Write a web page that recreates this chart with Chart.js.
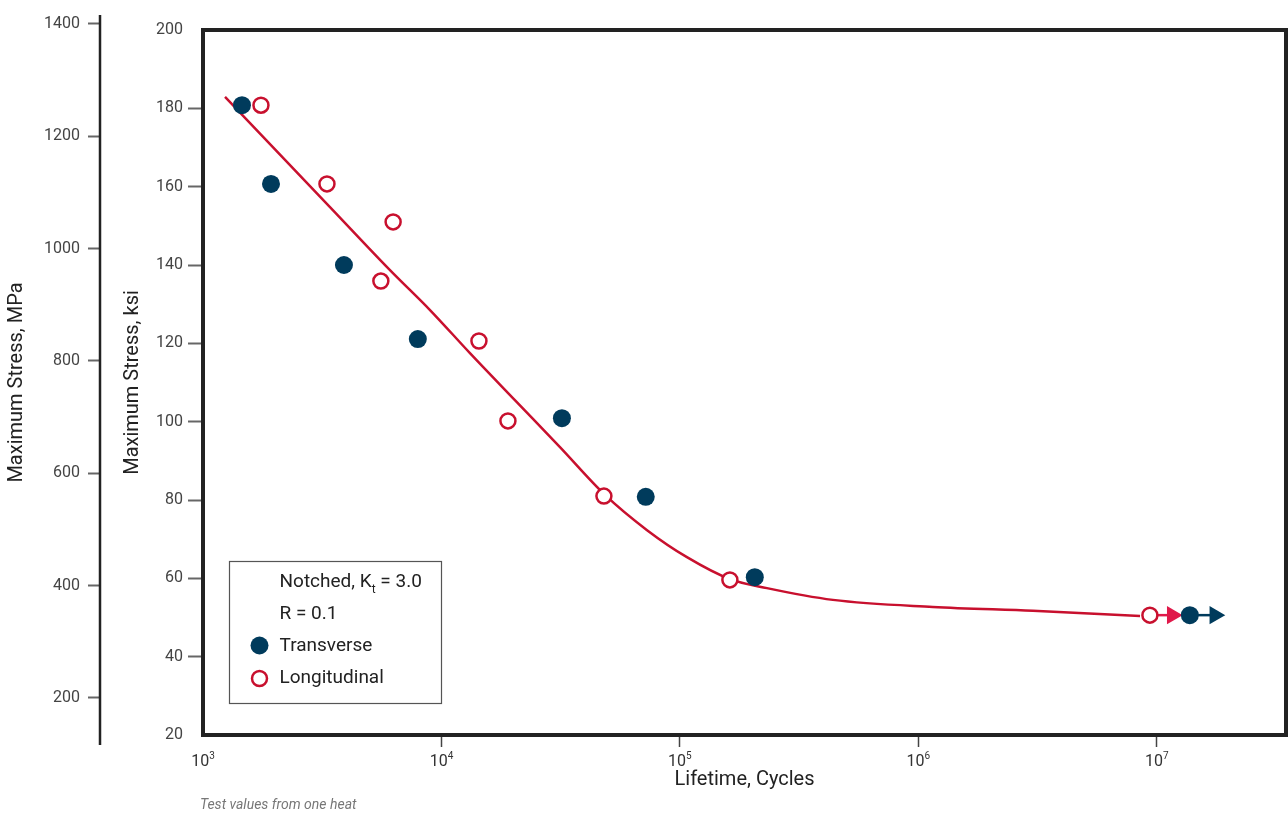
<!DOCTYPE html>
<html>
<head>
<meta charset="utf-8">
<title>Maximum Stress vs Lifetime</title>
<script src="https://cdn.jsdelivr.net/npm/chart.js@4.4.1/dist/chart.umd.min.js"></script>
<style>
  html, body { margin: 0; padding: 0; background: #fff; }
  #wrap { position: relative; width: 1288px; height: 816px; }
</style>
</head>
<body>
<div id="wrap"><canvas id="snChart" width="1288" height="816"></canvas></div>
<script>
// Test points: lifetime in cycles, stress in ksi
const transverseN   = [1457, 1928, 3900, 7960, 32000, 71900, 206000, 13750000];
const transverseKsi = [180.8, 160.7, 140.0, 121.1, 100.9, 80.8, 60.3, 50.6];

const longitudinalN   = [1750, 3310, 6270, 5570, 14360, 19000, 48000, 162000, 9350000];
const longitudinalKsi = [180.8, 160.7, 151.0, 135.9, 120.6, 100.2, 81.0, 59.6, 50.6];

// fitted S-N curve
const curveN   = [1237, 3408, 6083, 8953, 13166, 20320, 31400, 48500, 72800, 107000, 162000, 231700, 438000, 1150000, 3020000, 8500000];
const curveKsi = [182.9, 154.8, 138.7, 128.5, 117.5, 105.5, 93.5, 81.3, 72.3, 65.4, 59.8, 57.5, 54.5, 52.7, 51.7, 50.4];

// run-outs (arrows = test stopped, no failure)
const runoutLongN  = [9350000, 11600000];
const runoutTransN = [13750000, 17500000];
const runoutKsi    = [50.6, 50.6];

// axis ticks and ranges
const lifeTicks = [1e3, 1e4, 1e5, 1e6, 1e7];
const ksiTicks  = [20, 40, 60, 80, 100, 120, 140, 160, 180, 200];
const mpaTicks  = [200, 400, 600, 800, 1000, 1200, 1400];
const mpaRange  = [134, 1389];   // MPa at the bottom / top of the frame, as drawn

const NAVY = '#003b5c';
const RED = '#c8102e';
const ARROW_RED = '#e0194a';
const FONT = 'Roboto, "Liberation Sans", sans-serif';

const toPts = (xs, ys) => xs.map((x, i) => ({ x: x, y: ys[i] }));

Chart.defaults.font.family = FONT;

// frame round the plot, the long MPa axis line, 10^n labels, legend box and footnote
const decorPlugin = {
  id: 'decor',
  afterDraw(chart) {
    const ctx = chart.ctx;
    const a = chart.chartArea;
    const mpa = chart.scales.mpa;
    const xs = chart.scales.x;
    ctx.save();

    // plot frame
    ctx.strokeStyle = '#222';
    ctx.lineWidth = 4;
    ctx.strokeRect(a.left, a.top, a.right - a.left, a.bottom - a.top);

    // MPa axis line, runs a bit past the frame
    ctx.lineWidth = 2.5;
    ctx.beginPath();
    ctx.moveTo(mpa.right, a.top - 15);
    ctx.lineTo(mpa.right, a.bottom + 10);
    ctx.stroke();

    // lifetime tick labels with a real superscript
    ctx.fillStyle = '#333';
    ctx.textBaseline = 'middle';
    ctx.textAlign = 'left';
    lifeTicks.forEach(v => {
      const px = xs.getPixelForValue(v);
      const e = String(Math.round(Math.log10(v)));
      ctx.font = '16px ' + FONT;
      const w1 = ctx.measureText('10').width;
      ctx.font = '10px ' + FONT;
      const w2 = ctx.measureText(e).width;
      const x0 = px - (w1 + w2) / 2;
      ctx.font = '16px ' + FONT;
      ctx.fillText('10', x0, a.bottom + 27);
      ctx.font = '10px ' + FONT;
      ctx.fillText(e, x0 + w1, a.bottom + 21);
    });

    // legend box
    const bx = a.left + 26.5, by = a.bottom - 173.5, bw = 212, bh = 142;
    ctx.fillStyle = '#fff';
    ctx.fillRect(bx, by, bw, bh);
    ctx.strokeStyle = '#555';
    ctx.lineWidth = 1.2;
    ctx.strokeRect(bx, by, bw, bh);

    const tx = bx + 50;
    ctx.fillStyle = '#222';
    ctx.font = '19px ' + FONT;
    const s = 'Notched, K';
    ctx.fillText(s, tx, by + 21);
    const w = ctx.measureText(s).width;
    ctx.font = '12px ' + FONT;
    ctx.fillText('t', tx + w, by + 28);
    const wt = ctx.measureText('t').width;
    ctx.font = '19px ' + FONT;
    ctx.fillText(' = 3.0', tx + w + wt, by + 21);
    ctx.fillText('R = 0.1', tx, by + 53);
    ctx.fillText('Transverse', tx, by + 85);
    ctx.fillText('Longitudinal', tx, by + 117);

    ctx.fillStyle = NAVY;
    ctx.beginPath();
    ctx.arc(bx + 30, by + 84, 9, 0, Math.PI * 2);
    ctx.fill();
    ctx.strokeStyle = RED;
    ctx.lineWidth = 2.5;
    ctx.fillStyle = '#fff';
    ctx.beginPath();
    ctx.arc(bx + 30, by + 117, 7.5, 0, Math.PI * 2);
    ctx.fill();
    ctx.stroke();

    // footnote
    ctx.fillStyle = '#777';
    ctx.font = 'italic 14px ' + FONT;
    ctx.fillText('Test values from one heat', 200, 805);
    ctx.restore();
  }
};

new Chart(document.getElementById('snChart'), {
  type: 'scatter',
  data: {
    datasets: [
      {
        label: 'Transverse',
        data: toPts(transverseN, transverseKsi),
        backgroundColor: NAVY,
        borderColor: NAVY,
        borderWidth: 0,
        pointRadius: 9,
        order: 0
      },
      {
        label: 'Longitudinal',
        data: toPts(longitudinalN, longitudinalKsi),
        backgroundColor: '#fff',
        borderColor: RED,
        borderWidth: 2.5,
        pointRadius: 7.5,
        order: 0
      },
      {
        type: 'line',
        label: 'Longitudinal run-out',
        data: toPts(runoutLongN, runoutKsi),
        borderColor: ARROW_RED,
        backgroundColor: ARROW_RED,
        borderWidth: 2.5,
        pointStyle: 'triangle',
        rotation: 90,
        pointRadius: [0, 8],
        order: 1
      },
      {
        type: 'line',
        label: 'Transverse run-out',
        data: toPts(runoutTransN, runoutKsi),
        borderColor: NAVY,
        backgroundColor: NAVY,
        borderWidth: 2.5,
        pointStyle: 'triangle',
        rotation: 90,
        pointRadius: [0, 8],
        order: 1
      },
      {
        type: 'line',
        label: 'Fit',
        data: toPts(curveN, curveKsi),
        borderColor: RED,
        borderWidth: 2.5,
        pointRadius: 0,
        cubicInterpolationMode: 'monotone',
        order: 2
      }
    ]
  },
  options: {
    responsive: false,
    animation: false,
    layout: { autoPadding: false, padding: { top: 30, right: 2, left: 0, bottom: 0 } },
    plugins: {
      legend: { display: false },
      tooltip: { enabled: false }
    },
    scales: {
      x: {
        type: 'logarithmic',
        min: 1000,
        max: 3.48e7,
        afterBuildTicks: s => { s.ticks = lifeTicks.map(v => ({ value: v })); },
        afterFit: s => { s.height = 81; s.paddingLeft = 0; s.paddingRight = 0; },
        border: { display: false },
        grid: {
          drawOnChartArea: false,
          tickLength: 12,
          tickWidth: 1.5,
          tickColor: c => (c.tick && c.tick.value === 1000) ? 'rgba(0,0,0,0)' : '#444'
        },
        ticks: { display: false },
        title: {
          display: true,
          text: 'Lifetime, Cycles',
          color: '#222',
          font: { size: 20 },
          padding: { top: 0, bottom: 24 }
        }
      },
      y: {
        type: 'linear',
        position: 'left',
        weight: 1,
        min: 20,
        max: 200,
        afterBuildTicks: s => { s.ticks = ksiTicks.map(v => ({ value: v })); },
        afterFit: s => { s.width = 103; },
        border: { display: false },
        grid: {
          drawOnChartArea: false,
          tickLength: 15,
          tickWidth: 2,
          tickColor: c => (c.tick && (c.tick.value === 20 || c.tick.value === 200)) ? 'rgba(0,0,0,0)' : '#666'
        },
        ticks: { padding: 5, color: '#444', font: { size: 16 }, callback: v => String(v) },
        title: {
          display: true,
          text: 'Maximum Stress, ksi',
          color: '#222',
          font: { size: 20 },
          padding: { top: 21, bottom: 0 }
        }
      },
      mpa: {
        type: 'linear',
        position: 'left',
        weight: 2,
        min: mpaRange[0],
        max: mpaRange[1],
        afterBuildTicks: s => { s.ticks = mpaTicks.map(v => ({ value: v })); },
        afterFit: s => { s.width = 100; },
        border: { display: false },
        grid: {
          drawOnChartArea: false,
          tickLength: 12,
          tickWidth: 2,
          tickColor: '#666'
        },
        ticks: { padding: 8, color: '#444', font: { size: 16 }, callback: v => String(v) },
        title: {
          display: true,
          text: 'Maximum Stress, MPa',
          color: '#222',
          font: { size: 20 },
          padding: { top: 5, bottom: 0 }
        }
      }
    }
  },
  plugins: [decorPlugin]
});
</script>
</body>
</html>
